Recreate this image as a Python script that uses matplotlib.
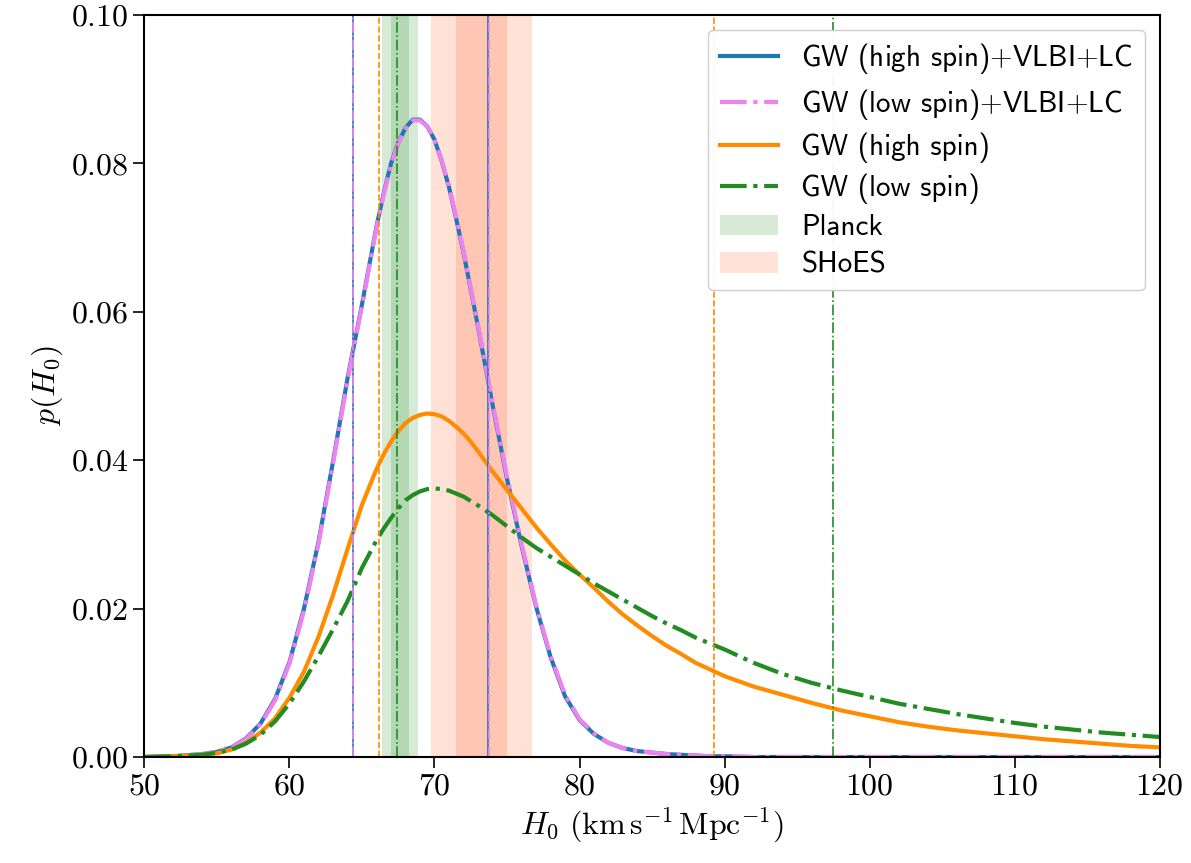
import numpy as np
import matplotlib
matplotlib.use('Agg')
import matplotlib.pyplot as plt

plt.rcParams['font.family'] = 'serif'
plt.rcParams['font.serif'] = ['cmr10']
plt.rcParams['mathtext.fontset'] = 'cm'
plt.rcParams['axes.formatter.use_mathtext'] = True
plt.rcParams['axes.unicode_minus'] = False

# posterior samples on an H0 grid (km/s/Mpc), finer around the peaks
h0 = [50, 52, 54, 55, 56, 57, 58, 59, 60, 61, 62, 63, 64, 65, 66, 66.5, 67,
      67.5, 68, 68.5, 69, 69.5, 70, 70.5, 71, 71.5, 72, 72.5, 73, 74, 75, 76,
      77, 78, 79, 80, 81, 82, 83, 84, 85, 86, 87, 88, 89, 90, 92, 94, 96, 98,
      100, 102, 104, 106, 108, 110, 112, 114, 116, 118, 120]

# GW (high spin) + VLBI + LC
p_high_comb = [0.0000, 0.0001, 0.0004, 0.0007, 0.0013, 0.0025, 0.0045, 0.0078,
               0.0128, 0.0200, 0.0290, 0.0398, 0.0510, 0.0610, 0.0715, 0.0760,
               0.0800, 0.0828, 0.0848, 0.0859, 0.0859, 0.0850, 0.0832, 0.0803,
               0.0768, 0.0725, 0.0680, 0.0630, 0.0580, 0.0475, 0.0375, 0.0285,
               0.0203, 0.0135, 0.0082, 0.0050, 0.0031, 0.0019, 0.0012, 0.0008,
               0.0006, 0.0004, 0.0003, 0.0002, 0.0001, 0.0001, 0.0000, 0.0000,
               0.0000, 0.0000, 0.0000, 0.0000, 0.0000, 0.0000, 0.0000, 0.0000,
               0.0000, 0.0000, 0.0000, 0.0000, 0.0000]
# GW (low spin) + VLBI + LC
p_low_comb = [0.0000, 0.0001, 0.0004, 0.0007, 0.0013, 0.0024, 0.0044, 0.0076,
              0.0126, 0.0197, 0.0287, 0.0395, 0.0507, 0.0608, 0.0713, 0.0758,
              0.0798, 0.0827, 0.0847, 0.0858, 0.0858, 0.0850, 0.0832, 0.0804,
              0.0769, 0.0727, 0.0682, 0.0632, 0.0582, 0.0478, 0.0378, 0.0288,
              0.0205, 0.0137, 0.0084, 0.0051, 0.0032, 0.0019, 0.0012, 0.0008,
              0.0006, 0.0004, 0.0003, 0.0002, 0.0001, 0.0001, 0.0000, 0.0000,
              0.0000, 0.0000, 0.0000, 0.0000, 0.0000, 0.0000, 0.0000, 0.0000,
              0.0000, 0.0000, 0.0000, 0.0000, 0.0000]
# GW only, high spin prior
p_high = [0.0000, 0.0001, 0.0003, 0.0005, 0.0010, 0.0019, 0.0033, 0.0052,
          0.0080, 0.0115, 0.0162, 0.0218, 0.0280, 0.0340, 0.0388, 0.0408,
          0.0425, 0.0439, 0.0450, 0.0457, 0.0461, 0.0463, 0.0462, 0.0459,
          0.0453, 0.0445, 0.0436, 0.0425, 0.0412, 0.0385, 0.0360, 0.0335,
          0.0310, 0.0287, 0.0265, 0.0246, 0.0228, 0.0209, 0.0192, 0.0177,
          0.0163, 0.0150, 0.0139, 0.0127, 0.0118, 0.0109, 0.0095, 0.0084,
          0.0073, 0.0063, 0.0055, 0.0047, 0.0041, 0.0036, 0.0032, 0.0028,
          0.0024, 0.0021, 0.0018, 0.0015, 0.0013]
# GW only, low spin prior
p_low = [0.0000, 0.0001, 0.0003, 0.0006, 0.0010, 0.0018, 0.0030, 0.0048,
         0.0072, 0.0102, 0.0136, 0.0172, 0.0210, 0.0255, 0.0292, 0.0308,
         0.0322, 0.0335, 0.0346, 0.0353, 0.0358, 0.0361, 0.0362, 0.0361,
         0.0359, 0.0355, 0.0351, 0.0345, 0.0339, 0.0326, 0.0311, 0.0296,
         0.0282, 0.0270, 0.0258, 0.0246, 0.0234, 0.0223, 0.0212, 0.0201,
         0.0190, 0.0180, 0.0171, 0.0161, 0.0153, 0.0145, 0.0127, 0.0112,
         0.0100, 0.0090, 0.0081, 0.0072, 0.0065, 0.0058, 0.0052, 0.0046,
         0.0041, 0.0037, 0.0033, 0.0030, 0.0027]

# 68% credible bounds
ci_high_comb = [64.4, 73.7]
ci_low_comb = [64.4, 73.75]
ci_high = [66.2, 89.3]
ci_low = [67.4, 97.5]

# external measurements: mean, sigma
planck = (67.6, 0.62)
shoes = (73.24, 1.74)

fig = plt.figure(figsize=(11.91, 8.63), dpi=100)
ax = fig.add_axes([0.1213, 0.1228, 0.8523, 0.8598])

# 1 and 2 sigma bands
ax.axvspan(planck[0] - 2 * planck[1], planck[0] + 2 * planck[1], color='green', alpha=0.16, lw=0, label='Planck')
ax.axvspan(planck[0] - planck[1], planck[0] + planck[1], color='green', alpha=0.16, lw=0)
ax.axvspan(shoes[0] - 2 * shoes[1], shoes[0] + 2 * shoes[1], color='orangered', alpha=0.16, lw=0, label='SHoES')
ax.axvspan(shoes[0] - shoes[1], shoes[0] + shoes[1], color='orangered', alpha=0.16, lw=0)

ax.plot(h0, p_high_comb, '-', color='#1f77b4', lw=3, label=r'GW (high spin)$+$VLBI$+$LC')
ax.plot(h0, p_low_comb, '-.', color='violet', lw=3, label=r'GW (low spin)$+$VLBI$+$LC')
ax.plot(h0, p_high, '-', color='darkorange', lw=3, label='GW (high spin)')
ax.plot(h0, p_low, '-.', color='forestgreen', lw=3, label='GW (low spin)')

for b in ci_high_comb:
    ax.axvline(b, color='#1f77b4', lw=1.2, ls='-')
for b in ci_low_comb:
    ax.axvline(b, color='violet', lw=1.2, ls='-.')
for b in ci_high:
    ax.axvline(b, color='darkorange', lw=1.2, ls='--')
for b in ci_low:
    ax.axvline(b, color='forestgreen', lw=1.2, ls='-.')

ax.set_xlim(50, 120)
ax.set_ylim(0, 0.1)
ax.set_xticks(np.arange(50, 121, 10))
ax.set_yticks(np.arange(0, 0.101, 0.02))
ax.tick_params(labelsize=23, length=8, width=1.2)
for s in ax.spines.values():
    s.set_linewidth(1.5)

ax.set_xlabel(r'$H_0\ (\mathrm{km\,s^{-1}\,Mpc^{-1}})$', fontsize=23)
ax.set_ylabel(r'$p(H_0)$', fontsize=23)

# put curves first, bands last in the legend
handles, labels = ax.get_legend_handles_labels()
order = [2, 3, 4, 5, 0, 1]
ax.legend([handles[i] for i in order], [labels[i] for i in order], loc='upper right',
          prop={'family': 'cmss10', 'size': 21}, framealpha=0.95, labelspacing=0.36)

plt.savefig('out.png', dpi=100)
